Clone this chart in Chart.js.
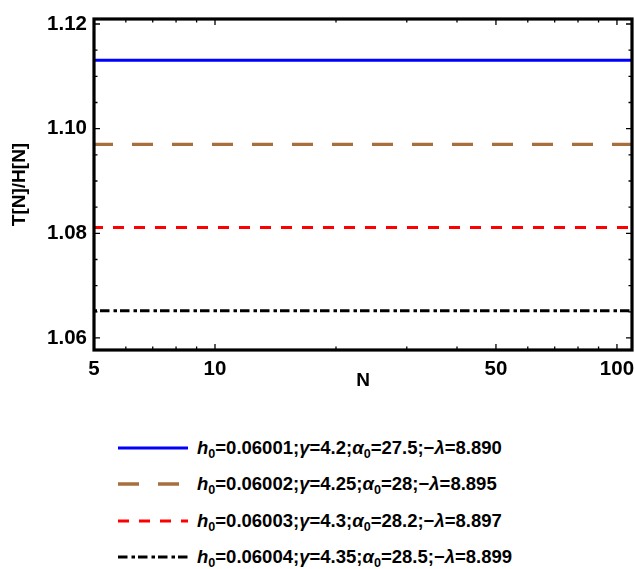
<!DOCTYPE html>
<html>
<head>
<meta charset="utf-8">
<script src="https://cdn.jsdelivr.net/npm/chart.js@4.4.1/dist/chart.umd.min.js"></script>
<style>
  body { margin: 0; background: #fff; width: 635px; height: 569px; overflow: hidden; position: relative;
         font-family: "Liberation Sans", Arial, sans-serif; }
  #wrap { position: absolute; left: 0; top: 0; width: 635px; height: 400px; }
  #legend { position: absolute; left: 118px; top: 430px; }
  .row { display: flex; align-items: center; height: 36.3px; }
  .row svg { width: 70px; height: 10px; flex: none; }
  .row span { margin-left: 9px; font-weight: bold; font-size: 18.5px; white-space: nowrap; color: #000; }
  .row sub { font-size: 0.68em; vertical-align: -0.3em; line-height: 0; font-style: normal; }
</style>
</head>
<body>
<div id="wrap"><canvas id="c" width="635" height="400"></canvas></div>
<div id="legend"></div>
<script>
// N samples along the log axis
const nValues = [5, 10, 20, 30, 50, 70, 100, 109];

// T[N]/H[N] for each parameter set
const ratioSet1 = [1.1131, 1.1131, 1.1131, 1.1131, 1.1131, 1.1131, 1.1131, 1.1131];
const ratioSet2 = [1.0970, 1.0970, 1.0970, 1.0970, 1.0970, 1.0970, 1.0970, 1.0970];
const ratioSet3 = [1.0811, 1.0811, 1.0811, 1.0811, 1.0811, 1.0811, 1.0811, 1.0811];
const ratioSet4 = [1.0652, 1.0652, 1.0652, 1.0652, 1.0652, 1.0652, 1.0652, 1.0652];

// parameters shown in the legend
const h0Vals     = ['0.06001', '0.06002', '0.06003', '0.06004'];
const gammaVals  = ['4.2', '4.25', '4.3', '4.35'];
const alpha0Vals = ['27.5', '28', '28.2', '28.5'];
const lambdaVals = ['8.890', '8.895', '8.897', '8.899'];

// axis ticks
const xMajorTicks = [5, 10, 50, 100];
const xMinorTicks = [6, 7, 8, 9, 20, 30, 40, 60, 70, 80, 90];
const yMajorTicks = [1.06, 1.08, 1.10, 1.12];
const yMinorTicks = [1.065, 1.07, 1.075, 1.085, 1.09, 1.095, 1.105, 1.11, 1.115];

const styles = [
  { color: '#0000ff', width: 3,   dash: [],               offset: 0 },
  { color: '#a6703c', width: 3.3, dash: [21, 19],         offset: 2 },
  { color: '#ff0000', width: 3,   dash: [11, 10],         offset: 2 },
  { color: '#000000', width: 3,   dash: [9.5, 4, 3.5, 3], offset: 14 }
];
const series = [ratioSet1, ratioSet2, ratioSet3, ratioSet4];

const datasets = series.map((vals, i) => ({
  data: nValues.map((n, k) => ({ x: n, y: vals[k] })),
  borderColor: styles[i].color,
  borderWidth: styles[i].width,
  borderDash: styles[i].dash,
  borderDashOffset: styles[i].offset,
  borderCapStyle: 'butt',
  pointRadius: 0,
  tension: 0,
  fill: false
}));

const tickFont = { family: '"Liberation Sans", Arial, sans-serif', size: 20.5, weight: 'bold' };
const titleFont = { family: '"Liberation Sans", Arial, sans-serif', size: 19, weight: 'bold' };

// frame with inward major/minor ticks on all four sides
const framePlugin = {
  id: 'frame',
  afterDraw(chart) {
    const { ctx, chartArea: a, scales: { x, y } } = chart;
    ctx.save();
    ctx.strokeStyle = '#000';
    ctx.lineWidth = 1.3;
    ctx.beginPath();
    const xt = (v, len) => {
      const p = x.getPixelForValue(v);
      ctx.moveTo(p, a.bottom); ctx.lineTo(p, a.bottom - len);
      ctx.moveTo(p, a.top);    ctx.lineTo(p, a.top + len);
    };
    const yt = (v, len) => {
      const p = y.getPixelForValue(v);
      ctx.moveTo(a.left, p);  ctx.lineTo(a.left + len, p);
      ctx.moveTo(a.right, p); ctx.lineTo(a.right - len, p);
    };
    xMajorTicks.forEach(v => xt(v, 6));
    xMinorTicks.forEach(v => xt(v, 3.5));
    yMajorTicks.forEach(v => yt(v, 6));
    yMinorTicks.forEach(v => yt(v, 3.5));
    ctx.stroke();
    ctx.lineWidth = 3.2;
    ctx.strokeRect(a.left, a.top, a.right - a.left, a.bottom - a.top);
    ctx.restore();
  }
};

new Chart(document.getElementById('c'), {
  type: 'line',
  data: { datasets },
  options: {
    responsive: false,
    animation: false,
    layout: { padding: { top: 19, right: 3, left: 0, bottom: 0 } },
    plugins: { legend: { display: false }, tooltip: { enabled: false } },
    scales: {
      x: {
        type: 'logarithmic',
        min: 5,
        max: 109,
        grid: { display: false, drawTicks: false },
        border: { display: false },
        afterBuildTicks: s => { s.ticks = xMajorTicks.map(v => ({ value: v })); },
        afterFit: s => { s.height = 50; s.paddingLeft = 0; s.paddingRight = 0; },
        ticks: { font: tickFont, color: '#000', padding: 7, maxRotation: 0, autoSkip: false,
                 callback: v => String(v) },
        title: { display: true, text: 'N', font: titleFont, color: '#000', padding: { top: 0, bottom: 8 } }
      },
      y: {
        type: 'linear',
        min: 1.0577,
        max: 1.12096,
        grid: { display: false, drawTicks: false },
        border: { display: false },
        afterBuildTicks: s => { s.ticks = yMajorTicks.map(v => ({ value: v })); },
        afterFit: s => { s.width = 94; s.paddingTop = 0; s.paddingBottom = 0; },
        ticks: { font: tickFont, color: '#000', padding: 7, callback: v => v.toFixed(2) },
        title: { display: true, text: 'T[N]/H[N]', font: titleFont, color: '#000', padding: { top: 8, bottom: 0 } }
      }
    }
  },
  plugins: [framePlugin]
});

// legend rows with line samples and parameter text
const legend = document.getElementById('legend');
styles.forEach((st, i) => {
  const row = document.createElement('div');
  row.className = 'row';
  row.innerHTML =
    '<svg viewBox="0 0 70 10"><line x1="0" y1="5" x2="70" y2="5" stroke="' + st.color +
    '" stroke-width="' + st.width + '" stroke-dasharray="' + (st.dash.length ? st.dash.join(' ') : 'none') +
    '"/></svg>' +
    '<span><i>h</i><sub>0</sub>=' + h0Vals[i] + ';<i>γ</i>=' + gammaVals[i] +
    ';<i>α</i><sub>0</sub>=' + alpha0Vals[i] + ';−<i>λ</i>=' + lambdaVals[i] + '</span>';
  legend.appendChild(row);
});
</script>
</body>
</html>
